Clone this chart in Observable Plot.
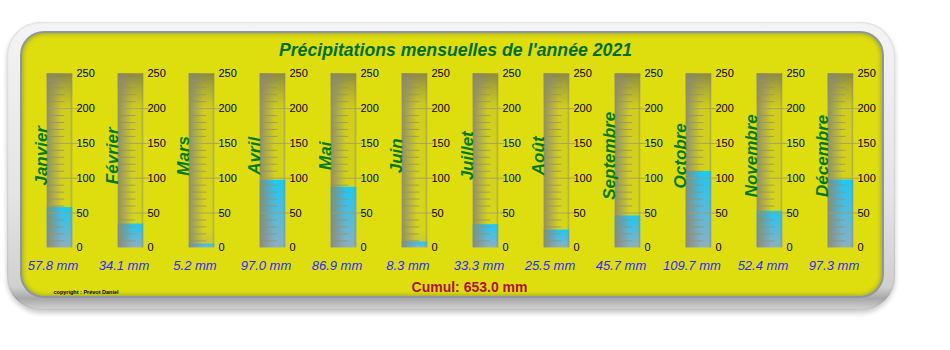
<!DOCTYPE html>
<html><head><meta charset="utf-8">
<script src="https://cdn.jsdelivr.net/npm/d3@7"></script>
<script src="https://cdn.jsdelivr.net/npm/@observablehq/plot@0.6"></script>
<style>
body{margin:0;background:#fff;width:950px;height:350px;overflow:hidden;font-family:"Liberation Sans",Arial,sans-serif;}
#wrap{position:relative;width:950px;height:350px;}
#outer{position:absolute;left:7px;top:22px;width:888px;height:288px;border-radius:34px;
 background:linear-gradient(to bottom,#f4f4f4 0%,#e4e4e4 60%,#d0d0d0 92%,#a8a8a8 96%,#d4d4d4 100%);
 box-shadow:0 3px 5px rgba(0,0,0,0.22), inset 0 0 2px rgba(0,0,0,0.25);}
#inner{position:absolute;left:22px;top:33px;width:860px;height:263px;border-radius:22px;background:#dede0f;
 box-shadow:0 0 0 2px #8e96a6, inset 0 0 4px 1px rgba(90,95,80,0.45);}
#chart{position:absolute;left:0;top:0;}
</style></head><body>
<svg width="0" height="0" style="position:absolute">
<defs>
 <linearGradient id="tubeV" x1="0" y1="0" x2="0" y2="1">
  <stop offset="0" stop-color="#8a8846"/>
  <stop offset="0.07" stop-color="#a8a636"/>
  <stop offset="0.2" stop-color="#d0ce1c"/>
  <stop offset="0.9" stop-color="#d6d618"/>
  <stop offset="1" stop-color="#c4c240"/>
 </linearGradient>
 <linearGradient id="edgeH" x1="0" y1="0" x2="1" y2="0">
  <stop offset="0" stop-color="#8a8676" stop-opacity="0.9"/>
  <stop offset="0.3" stop-color="#8a8676" stop-opacity="0.45"/>
  <stop offset="0.6" stop-color="#8a8676" stop-opacity="0"/>
  <stop offset="0.9" stop-color="#8a8676" stop-opacity="0"/>
  <stop offset="1" stop-color="#8a8676" stop-opacity="0.55"/>
 </linearGradient>
 <linearGradient id="waterV" x1="0" y1="0" x2="0" y2="1">
  <stop offset="0" stop-color="#10d0ff"/>
  <stop offset="0.06" stop-color="#22c6f4"/>
  <stop offset="1" stop-color="#8ab0c4"/>
 </linearGradient>
</defs></svg>
<div id="wrap"><div id="outer"></div><div id="inner"></div><div id="chart"></div></div>
<script>
const months = ["Janvier","Février","Mars","Avril","Mai","Juin","Juillet","Août","Septembre","Octobre","Novembre","Décembre"];
const values = [57.8, 34.1, 5.2, 97.0, 86.9, 8.3, 33.3, 25.5, 45.7, 109.7, 52.4, 97.3];
const tickLabels = [0, 50, 100, 150, 200, 250];
const minorTicks = [10,20,30,40,60,70,80,90,110,120,130,140,160,170,180,190,210,220,230,240];
const majorTicks = [50, 100, 150, 200];
const title = "Précipitations mensuelles de l'année 2021";
const unit = "mm";
const cumulLabel = "Cumul: 653.0 mm";
const copyright = "copyright : Prévot Daniel";

const yMax = tickLabels[tickLabels.length - 1];
const rows = months.map((m, i) => ({month: m, value: values[i]}));
const minorRows = months.flatMap(m => minorTicks.map(t => ({month: m, t})));
const majorRows = months.flatMap(m => majorTicks.map(t => ({month: m, t})));
const labelRows = months.flatMap(m => tickLabels.map(t => ({month: m, t})));

const chart = Plot.plot({
  width: 950, height: 350,
  marginTop: 73.3, marginBottom: 102.7, marginLeft: 0, marginRight: 0,
  style: {background: "transparent", overflow: "visible", fontFamily: "'Liberation Sans', Arial, sans-serif"},
  x: {type: "band", domain: months, range: [46.7, 853.2], paddingInner: 0.64, paddingOuter: 0, align: 0, round: false, axis: null},
  y: {domain: [0, yMax], range: [247.3, 73.3], axis: null},
  marks: [
    Plot.barY(rows, {x: "month", y1: () => 0, y2: () => yMax, fill: "url(#tubeV)"}),
    Plot.barY(rows, {x: "month", y1: () => 0, y2: "value", fill: "url(#waterV)"}),
    Plot.barY(rows, {x: "month", y1: () => 0, y2: () => yMax, fill: "url(#edgeH)"}),
    Plot.tickY(minorRows, {x: "month", y: "t", stroke: "#96926a", strokeOpacity: 0.8, insetLeft: 0.8, insetRight: 8}),
    Plot.tickY(majorRows, {x: "month", y: "t", stroke: "#a09c70", strokeOpacity: 0.85, insetLeft: 0.8, insetRight: -6}),
    Plot.text(labelRows, {x: "month", y: "t", text: "t", dx: 16.5, textAnchor: "start", lineAnchor: "middle", fontSize: 11, fill: "#000"}),
    Plot.text(rows, {x: "month", text: "month", rotate: -90, frameAnchor: "middle", lineAnchor: "middle", dx: -18.5, dy: -5, fontSize: 17, fontWeight: "bold", fontStyle: "italic", fill: "#007a10"}),
    Plot.text(rows, {x: "month", text: d => d.value.toFixed(1) + " " + unit, frameAnchor: "bottom", lineAnchor: "middle", dx: -7, dy: 17.8, fontSize: 13, fontStyle: "italic", fill: "#2a2aff"}),
    Plot.text([title], {text: d => d, frameAnchor: "top", lineAnchor: "middle", dx: -20, dy: -23, fontSize: 17.7, fontWeight: "bold", fontStyle: "italic", fill: "#006e1c"}),
    Plot.text([cumulLabel], {text: d => d, frameAnchor: "bottom", lineAnchor: "middle", dx: -6, dy: 40, fontSize: 14, fontWeight: "bold", fill: "#b0103c"}),
    Plot.text([copyright], {text: d => d, frameAnchor: "bottom-left", lineAnchor: "middle", textAnchor: "start", dx: 53, dy: 44.7, fontSize: 5.5, fontWeight: "bold", fill: "#000"})
  ]
});
document.getElementById("chart").appendChild(chart);
</script>
</body></html>
